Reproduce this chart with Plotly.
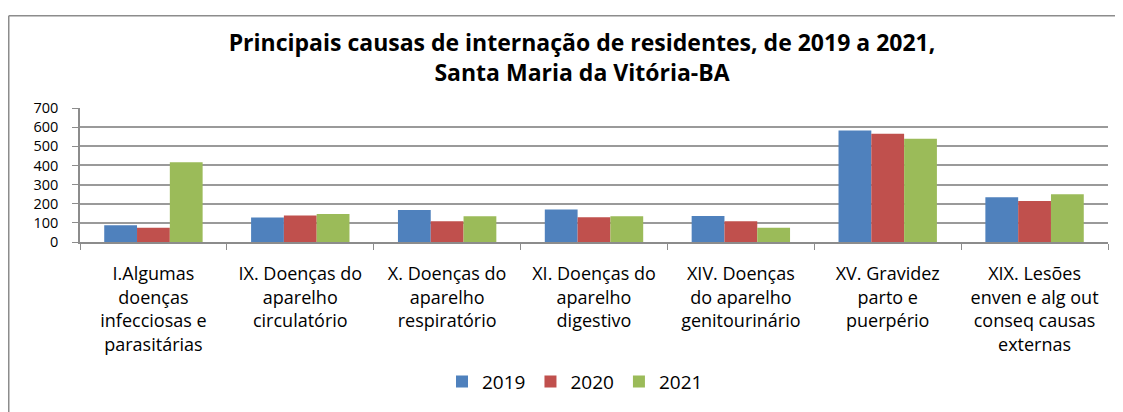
import plotly.graph_objects as go

categories = [
    "I.Algumas<br>doenças<br>infecciosas e<br>parasitárias",
    "IX. Doenças do<br>aparelho<br>circulatório",
    "X. Doenças do<br>aparelho<br>respiratório",
    "XI. Doenças do<br>aparelho<br>digestivo",
    "XIV. Doenças<br>do aparelho<br>genitourinário",
    "XV. Gravidez<br>parto e<br>puerpério",
    "XIX. Lesões<br>enven e alg out<br>conseq causas<br>externas",
]
v2019 = [87, 128, 167, 170, 136, 582, 234]
v2020 = [75, 139, 108, 129, 108, 566, 214]
v2021 = [417, 146, 134, 134, 75, 540, 250]
series = [("2019", v2019, "#4F81BD"), ("2020", v2020, "#C0504D"), ("2021", v2021, "#9BBB59")]
yticks = [0, 100, 200, 300, 400, 500, 600, 700]

FONT = "Open Sans"
W, H = 1115, 404
L, R, T, B = 72, 15, 100, 161
PW, PH = W - L - R, H - T - B


def px(x):
    return (x - L) / PW


def py(y):
    return (H - B - y) / PH


fig = go.Figure()
for name, vals, col in series:
    fig.add_trace(go.Bar(x=categories, y=vals, name=name, marker=dict(color=col, line=dict(width=0))))

fig.update_layout(
    width=W, height=H,
    margin=dict(l=L, r=R, t=T, b=B),
    paper_bgcolor="white", plot_bgcolor="white",
    barmode="group", bargap=0.33, bargroupgap=0,
    font=dict(family=FONT, size=18, color="#000"),
    title=dict(text="<b>Principais causas de internação de residentes, de 2019 a 2021,<br>Santa Maria da Vitória-BA</b>",
               x=574 / W, xanchor="center", y=1 - 43 / H, yanchor="top",
               font=dict(family=FONT, size=23, color="#000")),
    legend=dict(orientation="h", x=px(567), xanchor="center", y=py(392), yanchor="middle",
                font=dict(family=FONT, size=19), traceorder="normal"),
    showlegend=True,
)
fig.update_xaxes(showline=True, linecolor="#8c8c8c", linewidth=1.5, ticks="outside", tickson="boundaries",
                 ticklen=6, tickcolor="#8c8c8c", showgrid=False, tickfont=dict(size=18),
                 ticklabelstandoff=15)
fig.update_yaxes(range=[0, 700], tickvals=yticks, showline=True, linecolor="#8c8c8c", linewidth=1.5,
                 ticks="outside", ticklen=6, tickcolor="#8c8c8c", showgrid=True, gridcolor="#9a9a9a",
                 gridwidth=1.5, zeroline=False, tickfont=dict(size=14.5), ticklabelstandoff=11)
# chart-area border (top and left edges visible)
fig.add_shape(type="line", xref="paper", yref="paper",
              x0=px(0.75), x1=px(1130), y0=py(1.5), y1=py(1.5),
              line=dict(color="#8c8c8c", width=1.5), layer="below")
fig.add_shape(type="line", xref="paper", yref="paper",
              x0=px(0.75), x1=px(0.75), y0=py(1.5), y1=py(430),
              line=dict(color="#8c8c8c", width=1.5), layer="below")
fig.write_html("out.html")
